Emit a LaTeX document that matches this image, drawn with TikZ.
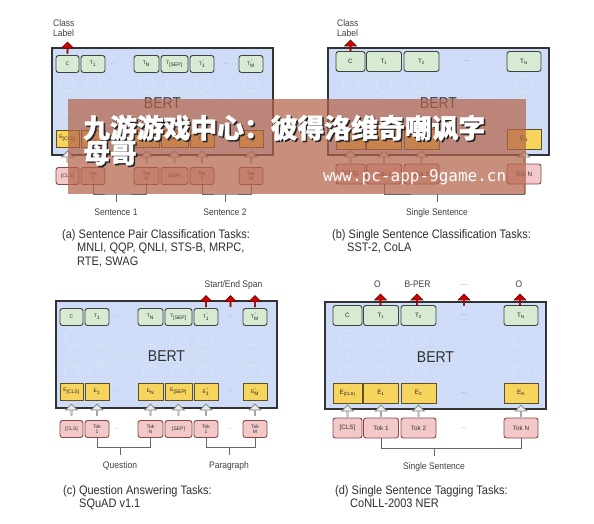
\documentclass[tikz,border=0pt]{standalone}
\usepackage{fontspec}
\usepackage{graphicx}
\setmainfont{Liberation Sans}
\newfontfamily\cjkfont[FakeBold=1.2]{Noto Sans CJK SC}
\newfontfamily\urlfont{DejaVu Sans Mono}
\usetikzlibrary{shapes.arrows}
\definecolor{bertblue}{HTML}{CEDCF7}
\definecolor{tgreen}{HTML}{D9EAD3}
\definecolor{tborder}{HTML}{3F443F}
\definecolor{eyellow}{HTML}{F7D45E}
\definecolor{eborder}{HTML}{5E5020}
\definecolor{ppink}{HTML}{F2C8C8}
\definecolor{pborder}{HTML}{874848}
\definecolor{arrred}{HTML}{D40000}
\definecolor{bannercol}{RGB}{180,100,75}
\newcommand{\vs}[1]{\scalebox{1}[1.12]{#1}}
\newcommand{\prm}[2]{#1\rlap{\textsuperscript{\,'}}\textsubscript{#2}}
\tikzset{
 wh/.style 2 args={minimum width=#1pt, minimum height=#2pt},
 bertbox/.style={draw=black!80, line width=1.2pt, fill=bertblue, inner sep=0pt, minimum width=221pt, minimum height=107pt},
 ttok/.style={draw=tborder, fill=tgreen, line width=0.9pt, rounded corners=2.5pt, inner sep=0pt, text=black!85},
 etok/.style={draw=eborder, fill=eyellow, line width=0.9pt, inner sep=0pt, text=black!85},
 ptok/.style={draw=pborder, fill=ppink, line width=0.9pt, rounded corners=2.5pt, inner sep=0pt, text=black!80, align=center},
 fsa/.style={font=\fontsize{5}{5.6}\selectfont},
 fsb/.style={font=\fontsize{6.3}{7}\selectfont},
 dotsty/.style={text=black!45, inner sep=0pt},
 uparr/.style={single arrow, shape border rotate=90, single arrow head extend=2.8pt, single arrow tip angle=90, minimum width=11.5pt, minimum height=11pt, inner sep=0pt, line width=0.7pt},
 grayarr/.style={uparr, fill=black!8, draw=black!50},
 redarr/.style={uparr, fill=arrred, draw=red!45!black},
 lbl/.style={font=\fontsize{8.5}{10}\selectfont, text=black!75, inner sep=0pt, anchor=base},
 caplbl/.style={font=\fontsize{11}{13}\selectfont, text=black!82, inner sep=0pt, anchor=base west},
 bertlbl/.style={font=\fontsize{14}{16}\selectfont, text=black!80, inner sep=0pt, anchor=base},
 brack/.style={draw=black!60, line width=1pt},
 net/.style={draw=white, draw opacity=0.28, line width=0.6pt},
 netline/.style={draw=white, draw opacity=0.10, line width=0.5pt},
}
% panel with a pair of sentences: #1 prefix, #2,#3 shift, #4 left label, #5 right label, #6 extra
\newcommand{\pairpanel}[6]{%
\begin{scope}[shift={(#2,#3)}]
  \node[bertbox] (#1box) at (110.5,53.5) {};
  \foreach \u in {15.5,41,94.5,122.5,150,199}{
    \draw[net] (\u,36) circle (7.5pt);
    \draw[net] (\u,72) circle (7.5pt);
    \foreach \v in {15.5,41,94.5,122.5,150,199}{\draw[netline] (\u,65) -- (\v,43);}
  }
  \node[bertlbl] (#1bert) at (110.5,60.5) {\vs{BERT}};
  % top tokens
  \node[ttok,fsa,wh={23}{17}] (#1T0) at (15.5,16) {C};
  \node[ttok,fsa,wh={24}{17}] (#1T1) at (41,16) {T\textsubscript{1}};
  \node[dotsty,fsa] (#1Td1) at (61,16) {...};
  \node[ttok,fsa,wh={25}{17}] (#1TN) at (94.5,16) {T\textsubscript{N}};
  \node[ttok,fsa,wh={27}{17}] (#1TS) at (122.5,16) {T\textsubscript{[SEP]}};
  \node[ttok,fsa,wh={24}{17}] (#1TA) at (150,16) {\prm{T}{1}};
  \node[dotsty,fsa] (#1Td2) at (174,16) {...};
  \node[ttok,fsa,wh={24}{17}] (#1TM) at (199,16) {\prm{T}{M}};
  % embeddings
  \node[etok,fsa,wh={23}{17}] (#1E0) at (15.5,90.5) {E\textsubscript{[CLS]}};
  \node[etok,fsa,wh={24}{17}] (#1E1) at (41,90.5) {E\textsubscript{1}};
  \node[dotsty,fsa] (#1Ed1) at (61,90.5) {...};
  \node[etok,fsa,wh={25}{17}] (#1EN) at (94.5,90.5) {E\textsubscript{N}};
  \node[etok,fsa,wh={27}{17}] (#1ES) at (122.5,90.5) {E\textsubscript{[SEP]}};
  \node[etok,fsa,wh={24}{17}] (#1EA) at (150,90.5) {\prm{E}{1}};
  \node[dotsty,fsa] (#1Ed2) at (174,90.5) {...};
  \node[etok,fsa,wh={24}{17}] (#1EM) at (199,90.5) {\prm{E}{M}};
  % input tokens
  \node[ptok,fsa,wh={23}{17}] (#1P0) at (15.5,128) {[CLS]};
  \node[ptok,fsa,wh={24}{17}] (#1P1) at (41,128) {Tok\\1};
  \node[dotsty,fsa] (#1Pd1) at (61,128) {...};
  \node[ptok,fsa,wh={25}{17}] (#1PN) at (94.5,128) {Tok\\N};
  \node[ptok,fsa,wh={27}{17}] (#1PS) at (122.5,128) {[SEP]};
  \node[ptok,fsa,wh={24}{17}] (#1PA) at (150,128) {Tok\\1};
  \node[dotsty,fsa] (#1Pd2) at (174,128) {...};
  \node[ptok,fsa,wh={24}{17}] (#1PM) at (199,128) {Tok\\M};
  % gray arrows
  \foreach \x/\i in {15.5/0,41/1,94.5/N,122.5/S,150/A,199/M}{
    \node[grayarr] (#1g\i) at (\x,109) {};
  }
  % brackets
  \coordinate (#1b1) at (64,146);
  \coordinate (#1s1) at (64,154);
  \draw[brack] (#1P1.south) |- (#1b1) -| (#1PN.south);
  \draw[brack] (#1b1) -- (#1s1);
  \coordinate (#1b2) at (173,146);
  \coordinate (#1s2) at (173,154);
  \draw[brack] (#1PA.south) |- (#1b2) -| (#1PM.south);
  \draw[brack] (#1b2) -- (#1s2);
  \node[lbl] (#1L1) at (64,167) {\vs{#4}};
  \node[lbl] (#1L2) at (173,167) {\vs{#5}};
  #6
\end{scope}}
% panel with a single sentence
\newcommand{\singlepanel}[4]{%
\begin{scope}[shift={(#2,#3)}]
  \node[bertbox] (#1box) at (110.5,53.5) {};
  \foreach \u in {22.5,56,93.5,196}{
    \draw[net] (\u,36) circle (8pt);
    \draw[net] (\u,72) circle (8pt);
    \foreach \v in {22.5,56,93.5,196}{\draw[netline] (\u,64) -- (\v,44);}
  }
  \node[bertlbl] (#1bert) at (110.5,60.5) {\vs{BERT}};
  \node[ttok,fsb,wh={29}{20}] (#1T0) at (22.5,13.5) {C};
  \node[ttok,fsb,wh={35}{20}] (#1T1) at (56,13.5) {T\textsubscript{1}};
  \node[ttok,fsb,wh={35}{20}] (#1T2) at (93.5,13.5) {T\textsubscript{2}};
  \node[dotsty,fsb] (#1Td) at (139,13.5) {...};
  \node[ttok,fsb,wh={34}{20}] (#1TN) at (196,13.5) {T\textsubscript{N}};
  \node[etok,fsb,wh={29}{20}] (#1E0) at (22.5,91) {E\textsubscript{[CLS]}};
  \node[etok,fsb,wh={35}{20}] (#1E1) at (56,91) {E\textsubscript{1}};
  \node[etok,fsb,wh={35}{20}] (#1E2) at (93.5,91) {E\textsubscript{2}};
  \node[dotsty,fsb] (#1Ed) at (139,91) {...};
  \node[etok,fsb,wh={34}{20}] (#1EN) at (196,91) {E\textsubscript{N}};
  \node[ptok,fsb,wh={29}{20}] (#1P0) at (22.5,126) {[CLS]};
  \node[ptok,fsb,wh={35}{20}] (#1P1) at (56,126) {Tok 1};
  \node[ptok,fsb,wh={35}{20}] (#1P2) at (93.5,126) {Tok 2};
  \node[dotsty,fsb] (#1Pd) at (139,126) {...};
  \node[ptok,fsb,wh={34}{20}] (#1PN) at (196,126) {Tok N};
  \foreach \x/\i in {22.5/0,56/1,93.5/2,196/N}{
    \node[grayarr] (#1g\i) at (\x,109) {};
  }
  \coordinate (#1b1) at (109,146);
  \coordinate (#1s1) at (109,154);
  \draw[brack] (#1P1.south) |- (#1b1) -| (#1PN.south);
  \draw[brack] (#1b1) -- (#1s1);
  \node[lbl] (#1L1) at (109,167) {\vs{Single Sentence}};
  #4
\end{scope}}
\begin{document}
\begin{tikzpicture}[x=1pt,y=-1pt]
\useasboundingbox (0,0) rectangle (594,523);
\fill[white] (0,0) rectangle (594,523);

% (a)
\pairpanel{a}{52}{48}{Sentence 1}{Sentence 2}{%
  \node[redarr] (aR0) at (15.5,0) {};
  \node[lbl,anchor=base west] (aCl1) at (1,-22) {\vs{Class}};
  \node[lbl,anchor=base west] (aCl2) at (1,-11.5) {\vs{Label}};
}
% (c)
\pairpanel{c}{56}{301}{Question}{Paragraph}{%
  \node[redarr] (cR1) at (150,0.5) {};
  \node[redarr] (cR2) at (174.5,0.5) {};
  \node[redarr] (cR3) at (199,0.5) {};
  \node[lbl] (cSpan) at (177.5,-13.5) {\vs{Start/End Span}};
}
% (b)
\singlepanel{b}{328}{48}{%
  \node[redarr] (bR0) at (22.5,-2) {};
  \node[lbl,anchor=base west] (bCl1) at (9,-22) {\vs{Class}};
  \node[lbl,anchor=base west] (bCl2) at (9,-11.5) {\vs{Label}};
}
% (d)
\singlepanel{d}{325}{302}{%
  \node[redarr] (dR1) at (55.5,-2) {};
  \node[redarr] (dR2) at (92,-2) {};
  \node[redarr] (dR3) at (139,-2) {};
  \node[redarr] (dR4) at (195,-2) {};
  \node[lbl] (dO1) at (52.5,-15) {\vs{O}};
  \node[lbl] (dBP) at (92.5,-15) {\vs{B-PER}};
  \node[lbl,text=black!45] (dOd) at (139,-17) {...};
  \node[lbl] (dO2) at (194,-15) {\vs{O}};
}

% captions
\node[caplbl] (capa1) at (62,238) {\vs{(a) Sentence Pair Classification Tasks:}};
\node[caplbl] (capa2) at (77,251.5) {\vs{MNLI, QQP, QNLI, STS-B, MRPC,}};
\node[caplbl] (capa3) at (77,265) {\vs{RTE, SWAG}};
\node[caplbl] (capb1) at (332,238) {\vs{(b) Single Sentence Classification Tasks:}};
\node[caplbl] (capb2) at (347,251.5) {\vs{SST-2, CoLA}};
\node[caplbl] (capc1) at (63,494) {\vs{(c) Question Answering Tasks:}};
\node[caplbl] (capc2) at (79,507.5) {\vs{SQuAD v1.1}};
\node[caplbl] (capd1) at (335,494) {\vs{(d) Single Sentence Tagging Tasks:}};
\node[caplbl] (capd2) at (350,507.5) {\vs{CoNLL-2003 NER}};

% watermark banner
\fill[bannercol, fill opacity=0.72] (68,99) rectangle (526,194);
\node[anchor=base west, inner sep=0pt, text=black!85, font=\cjkfont\bfseries\fontsize{26.8}{27}\selectfont] (wm1s) at (84.5,139.5) {九游游戏中心：彼得洛维奇嘲讽字};
\node[anchor=base west, inner sep=0pt, text=white, font=\cjkfont\bfseries\fontsize{26.8}{27}\selectfont] (wm1) at (83,138) {九游游戏中心：彼得洛维奇嘲讽字};
\node[anchor=base west, inner sep=0pt, text=black!85, font=\cjkfont\bfseries\fontsize{26.8}{27}\selectfont] (wm2s) at (84.5,164.5) {母哥};
\node[anchor=base west, inner sep=0pt, text=white, font=\cjkfont\bfseries\fontsize{26.8}{27}\selectfont] (wm2) at (83,163) {母哥};
\node[anchor=base west, inner sep=0pt, text=white, font=\urlfont\fontsize{16}{16}\selectfont] (url) at (323,181) {www.pc-app-9game.cn};
\end{tikzpicture}
\end{document}
